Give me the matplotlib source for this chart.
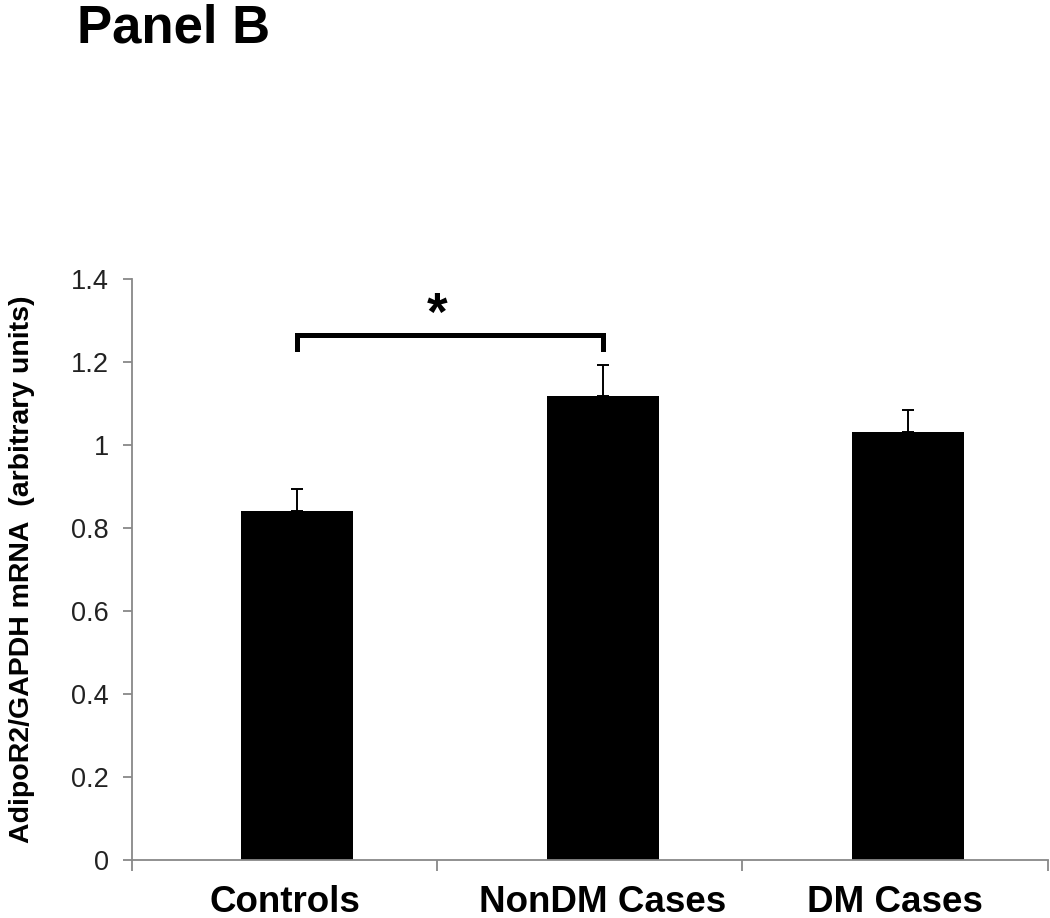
import matplotlib.pyplot as plt

plt.rcParams['font.family'] = ['Liberation Sans', 'DejaVu Sans']

# datos
groups = ['Controls', 'NonDM Cases', 'DM Cases']
means = [0.841, 1.118, 1.031]
errors = [0.053, 0.075, 0.053]
yticks = [0, 0.2, 0.4, 0.6, 0.8, 1.0, 1.2, 1.4]
ytick_labels = ['0', '0.2', '0.4', '0.6', '0.8', '1', '1.2', '1.4']

fig = plt.figure(figsize=(10.5, 9.18), dpi=100)
ax = fig.add_axes([0.1257, 0.0632, 0.872, 0.633])

# las barras estan un poco desplazadas a la derecha del centro (como en Excel)
shift = 0.042
x = [i + shift for i in range(len(groups))]
ax.bar(x, means, width=0.367, color='black', zorder=2)
ax.errorbar(x, means, yerr=[[0] * len(errors), errors], fmt='none',
            ecolor='black', elinewidth=1.4, capsize=4, capthick=1.4, zorder=3)

ax.set_xlim(-0.5, 2.5)
ax.set_ylim(0, 1.4)
ax.set_yticks(yticks)
ax.set_yticklabels(ytick_labels, fontsize=19.5, color='#222222')
ax.set_xticks([-0.5, 0.5, 1.5, 2.5])
ax.set_xticklabels([])
label_pos = [0, x[1], 2]
ax.set_xticks(label_pos, minor=True)
ax.set_xticklabels(groups, minor=True, fontsize=26.5, fontweight='bold')
ax.tick_params(axis='x', which='minor', length=0, pad=18)
ax.tick_params(axis='x', which='major', length=8, width=1.3, color='#888888')
ax.tick_params(axis='y', length=6.5, width=1.3, color='#888888', pad=10)

for s in ['top', 'right']:
    ax.spines[s].set_visible(False)
for s in ['left', 'bottom']:
    ax.spines[s].set_color('#888888')
    ax.spines[s].set_linewidth(1.3)

ax.set_ylabel('AdipoR2/GAPDH mRNA  (arbitrary units)', fontsize=20.5,
              fontweight='bold', labelpad=26)

# corchete de significancia
yb = 1.266
ax.plot([x[0], x[0], x[1], x[1]], [yb - 0.035, yb, yb, yb - 0.035],
        color='black', lw=3.6, solid_joinstyle='miter', zorder=4)
ax.text(0.5, 1.276, '*', ha='center', va='baseline', fontsize=38,
        fontweight='bold')

fig.text(0.0735, 0.9542, 'Panel B', fontsize=38, fontweight='bold',
         ha='left', va='baseline')

plt.savefig('out.png', dpi=100)
plt.close()
